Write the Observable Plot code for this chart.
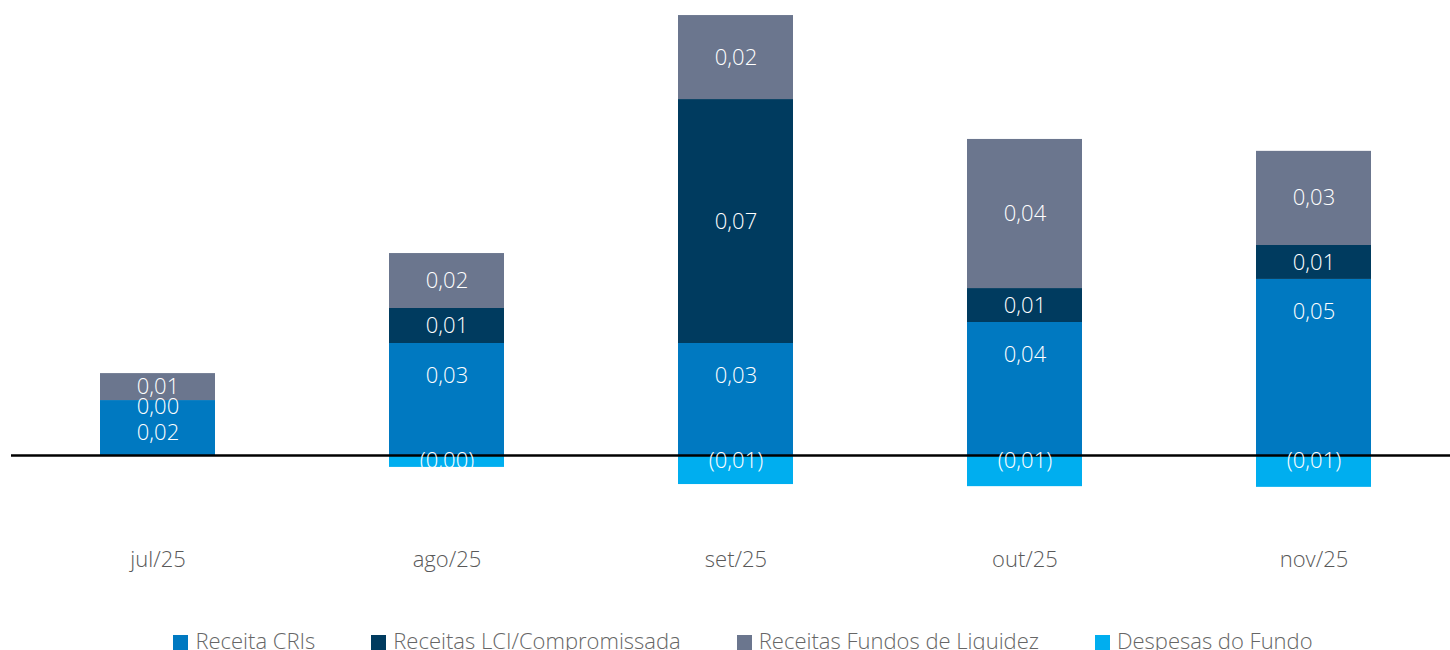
<!DOCTYPE html>
<html>
<head>
<meta charset="utf-8">
<script src="https://cdn.jsdelivr.net/npm/d3@7"></script>
<script src="https://cdn.jsdelivr.net/npm/@observablehq/plot@0.6"></script>
<style>
  body { margin: 0; background: #fff; font-family: "Open Sans", sans-serif; }
  #legend { display: flex; justify-content: center; gap: 56px; padding-left: 36px; margin-top: 8px;
            font-size: 22px; font-weight: 300; color: #666; line-height: 24px; }
  #legend .item { display: flex; align-items: center; gap: 7px; }
  #legend .sw { width: 15px; height: 15px; display: inline-block; margin-top: 4px; }
</style>
</head>
<body>
<div id="chart"></div>
<div id="legend"></div>
<script>
const months = ["jul/25", "ago/25", "set/25", "out/25", "nov/25"];
const series = ["Receita CRIs", "Receitas LCI/Compromissada", "Receitas Fundos de Liquidez", "Despesas do Fundo"];
const colors = ["#0079C1", "#003B5F", "#6B768E", "#00AEEF"];
const receitaCRIs   = [0.0157, 0.0320, 0.0320, 0.0380, 0.0503];
const receitasLCI   = [0.0000, 0.0100, 0.0697, 0.0097, 0.0097];
const receitasFundos= [0.0077, 0.0157, 0.0240, 0.0426, 0.0269];
const despesas      = [0.0000, -0.0034, -0.0083, -0.0089, -0.0091];

const valuesBySeries = [receitaCRIs, receitasLCI, receitasFundos, despesas];
const rows = [];
months.forEach((m, i) => {
  series.forEach((s, j) => {
    rows.push({month: m, series: s, value: valuesBySeries[j][i]});
  });
});

const fmt = v => {
  const s = Math.abs(v).toFixed(2).replace(".", ",");
  return v < 0 ? "(" + s + ")" : s;
};

// labels derived from the stacked values
const labels = [];
months.forEach((m, i) => {
  const cri = receitaCRIs[i], lci = receitasLCI[i], fun = receitasFundos[i], d = despesas[i];
  labels.push({month: m, y: cri - 0.0094, text: fmt(cri)});
  labels.push({month: m, y: cri + lci / 2 - (lci === 0 ? 0.0017 : 0), text: fmt(lci)});
  labels.push({month: m, y: cri + lci + fun / 2, text: fmt(fun)});
  if (d < 0) labels.push({month: m, y: -0.0015, text: fmt(d)});
});

const chart = Plot.plot({
  width: 1450,
  height: 620,
  marginTop: 0,
  marginBottom: 100,
  marginLeft: 11,
  marginRight: 0,
  style: {fontFamily: "Open Sans, sans-serif", fontSize: "22px", fontWeight: 300, background: "#fff"},
  x: {domain: months, range: [12, 1458], paddingInner: 0.603, paddingOuter: 0.297, label: null, tickSize: 0, tickPadding: 30},
  y: {domain: [-0.018571, 0.13], range: [520, 0], axis: null},
  color: {domain: series, range: colors},
  marks: [
    Plot.barY(rows, Plot.stackY({order: series}, {x: "month", y: "value", fill: "series", z: "series"})),
    Plot.ruleY([0], {stroke: "#000", strokeWidth: 2.4}),
    Plot.text(labels, {x: "month", y: "y", text: "text", fill: "#fff", fontSize: 22, fontWeight: 300}),
    Plot.axisX({tickSize: 0, tickPadding: 31, fill: "#595959", fontSize: 22, label: null})
  ]
});
document.getElementById("chart").appendChild(chart);

const legend = document.getElementById("legend");
series.forEach((s, j) => {
  const it = document.createElement("div");
  it.className = "item";
  const sw = document.createElement("span");
  sw.className = "sw";
  sw.style.background = colors[j];
  const t = document.createElement("span");
  t.textContent = s;
  it.appendChild(sw); it.appendChild(t);
  legend.appendChild(it);
});
</script>
</body>
</html>
